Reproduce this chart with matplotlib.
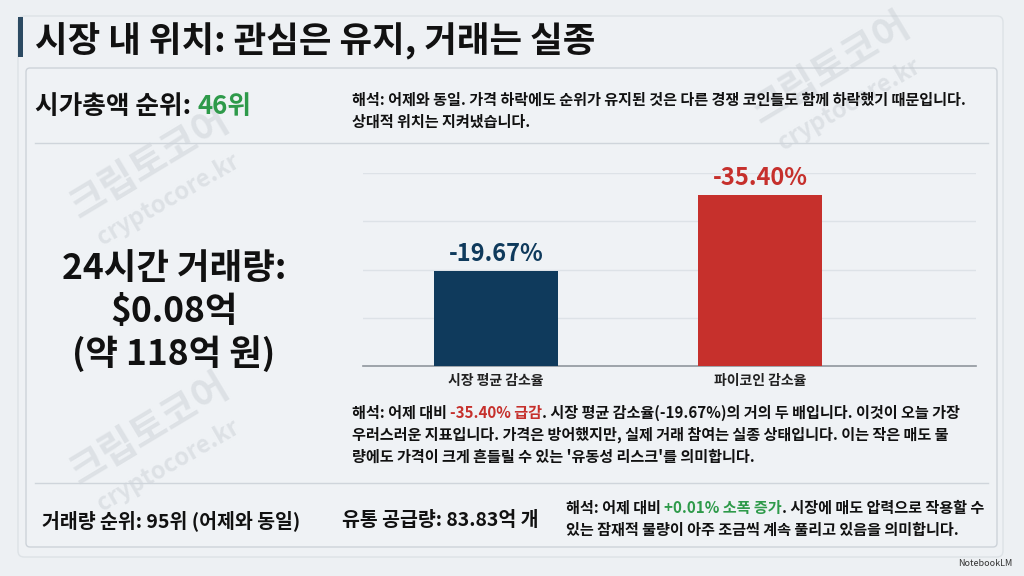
import matplotlib
matplotlib.use('Agg')
import matplotlib.pyplot as plt
import matplotlib.transforms as mtransforms
from matplotlib.patches import FancyBboxPatch, Rectangle
from matplotlib.lines import Line2D

plt.rcParams['font.family'] = ['Noto Sans CJK KR', 'DejaVu Sans']

# ---------------------------
# Data
# ---------------------------
categories = ['시장 평균 감소율', '파이코인 감소율']
change_pct = [-19.67, -35.40]
grid_ticks = [10, 20, 30, 40]

market_cap_rank = 46
volume_rank = 95
volume_usd = '$0.08억'
volume_krw = '(약 118억 원)'
circulating_supply = '83.83억 개'
supply_change = 0.01

title = '시장 내 위치: 관심은 유지, 거래는 실종'
note_rank = ['해석: 어제와 동일. 가격 하락에도 순위가 유지된 것은 다른 경쟁 코인들도 함께 하락했기 때문입니다.',
             '상대적 위치는 지켜냈습니다.']
note_volume_tail = ['. 시장 평균 감소율(-19.67%)의 거의 두 배입니다. 이것이 오늘 가장',
                    '우러스러운 지표입니다. 가격은 방어했지만, 실제 거래 참여는 실종 상태입니다. 이는 작은 매도 물',
                    '량에도 가격이 크게 흔들릴 수 있는 \'유동성 리스크\'를 의미합니다.']
note_supply_tail = ['. 시장에 매도 압력으로 작용할 수',
                    '있는 잠재적 물량이 아주 조금씩 계속 풀리고 있음을 의미합니다.']

# colours
BG = '#edf0f3'
NAVY = '#0f3a5c'
RED = '#c6302c'
GREEN = '#2e9a4a'
INK = '#111111'
LINE = '#cfd5db'

W, H = 1024, 576
fig = plt.figure(figsize=(W / 100, H / 100), dpi=100, facecolor=BG)
# pixel coords with origin at top-left
T = mtransforms.Affine2D().scale(1, -1).translate(0, H)
renderer = fig.canvas.get_renderer()


def text_width(s, **kw):
    t = fig.text(0, 0, s, **kw)
    w = t.get_window_extent(renderer).width
    t.remove()
    return w


def rich(x, y, parts, **kw):
    # parts: list of (text, color); draws them one after another on a line
    prefix = ''
    bar_w = text_width('|', **kw)
    for s, c in parts:
        dx = text_width(prefix + '|', **kw) - bar_w if prefix else 0
        fig.text(x + dx, y, s, color=c, transform=T, va='center', ha='left', **kw)
        prefix += s


# ---------------------------
# Frames
# ---------------------------
fig.patches.append(FancyBboxPatch((18, 16), 985, 541, boxstyle='round,pad=0,rounding_size=6',
                                  transform=T, facecolor='#eef1f4', edgecolor='#dde2e6', lw=1, zorder=0))
fig.patches.append(FancyBboxPatch((26, 68), 971, 479, boxstyle='round,pad=0,rounding_size=4',
                                  transform=T, facecolor='#eff2f5', edgecolor='#cdd3d9', lw=1, zorder=0))
fig.patches.append(Rectangle((18, 17), 5, 40, transform=T, facecolor='#2c4a62', edgecolor='none', zorder=1))
for yy in (143, 483):
    fig.lines.append(Line2D([35, 988], [yy, yy], transform=T, color=LINE, lw=1, zorder=1))

# watermarks
for cx, cy in [(150, 164), (831, 69), (150, 430)]:
    fig.text(cx, cy, '크립토코어', transform=T, rotation=31, rotation_mode='anchor', ha='center', va='center',
             fontsize=28, fontweight='bold', color='#c3c9cf', alpha=0.4, zorder=0.5)
    fig.text(cx + 18, cy + 36, 'cryptocore.kr', transform=T, rotation=30, rotation_mode='anchor',
             ha='center', va='center', fontsize=17, fontweight='bold', color='#c3c9cf', alpha=0.4, zorder=0.5)

# ---------------------------
# Texts
# ---------------------------
fig.text(35, 41, title, transform=T, va='center', ha='left', fontsize=25.5, fontweight='bold', color=INK)

rich(35, 107, [('시가총액 순위: ', INK), (f'{market_cap_rank}위', GREEN)], fontsize=18.5, fontweight='bold')

note_kw = dict(fontsize=10.9, fontweight='bold')
for i, line in enumerate(note_rank):
    fig.text(352, 100 + 22 * i, line, transform=T, va='center', ha='left', color=INK, **note_kw)

for i, line in enumerate(['24시간 거래량:', volume_usd, volume_krw]):
    fig.text(174, 268 + 43 * i, line, transform=T, va='center', ha='center', fontsize=25.5,
             fontweight='bold', color=INK)

rich(352, 413, [('해석: 어제 대비 ', INK), (f'{change_pct[1]:.2f}% 급감', RED), (note_volume_tail[0], INK)], **note_kw)
for i, line in enumerate(note_volume_tail[1:]):
    fig.text(352, 435 + 22 * i, line, transform=T, va='center', ha='left', color=INK, **note_kw)

fig.text(42, 521, f'거래량 순위: {volume_rank}위 (어제와 동일)', transform=T, va='center', ha='left',
         fontsize=14, fontweight='bold', color=INK)
fig.text(342, 521, f'유통 공급량: {circulating_supply}', transform=T, va='center', ha='left',
         fontsize=14, fontweight='bold', color=INK)

rich(566, 508, [('해석: 어제 대비 ', INK), (f'+{supply_change:.2f}% 소폭 증가', GREEN), (note_supply_tail[0], INK)],
     **note_kw)
fig.text(566, 530, note_supply_tail[1], transform=T, va='center', ha='left', color=INK, **note_kw)

fig.text(1012, 564, 'NotebookLM', transform=T, va='center', ha='right', fontsize=6.5, color='#333333')

# ---------------------------
# Bar chart
# ---------------------------
ax = fig.add_axes([363 / W, 1 - 366 / H, 613 / W, (366 - 173) / H])
ax.set_zorder(3)
ax.set_facecolor('none')
heights = [abs(v) for v in change_pct]
bars = ax.bar(range(len(categories)), heights, width=0.47, color=[NAVY, RED], zorder=3)
for b, v, c in zip(bars, change_pct, [NAVY, RED]):
    ax.annotate(f'{v:.2f}%', (b.get_x() + b.get_width() / 2, b.get_height()), xytext=(0, 4),
                textcoords='offset points', ha='center', va='bottom', fontsize=17, fontweight='bold',
                color=c, annotation_clip=False)
ax.set_xlim(-0.504, 1.818)
ax.set_ylim(0, 40)
ax.set_yticks(grid_ticks)
ax.yaxis.grid(True, color='#dde2e7', lw=1, zorder=0)
ax.tick_params(axis='y', length=0, labelleft=False)
ax.set_xticks(range(len(categories)), categories)
ax.tick_params(axis='x', length=0, pad=6, labelsize=10, labelcolor='#222222')
for lab in ax.get_xticklabels():
    lab.set_fontweight('bold')
for side in ('top', 'right', 'left'):
    ax.spines[side].set_visible(False)
ax.spines['bottom'].set_color('#8f969d')
ax.spines['bottom'].set_linewidth(1.2)

fig.savefig('out.png', dpi=100, facecolor=BG)
